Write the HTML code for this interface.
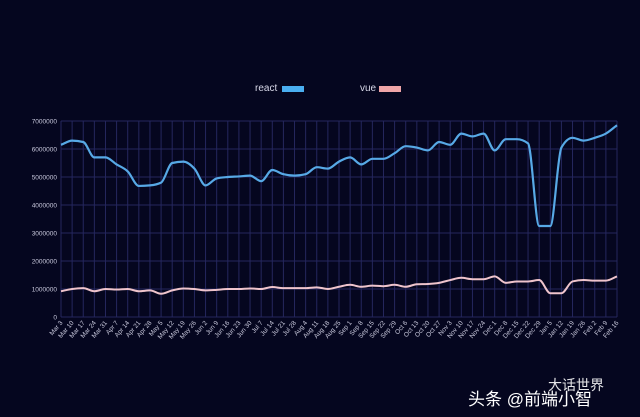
<!DOCTYPE html>
<html><head><meta charset="utf-8"><style>
html,body{margin:0;padding:0;background:#05061f;width:640px;height:417px;overflow:hidden}
svg{display:block;font-family:"Liberation Sans",sans-serif}
</style></head><body>
<svg id="s" width="640" height="417" viewBox="0 0 640 417">
<rect width="640" height="417" fill="#05061f"/>
<g id="grid"></g>
<g id="lbl" fill="#c8c8dc" font-size="6.5"></g>
<text x="255" y="91" fill="#d8d8e8" font-size="10">react</text>
<rect x="282" y="86" width="22" height="6" fill="#4aaef0"/>
<text x="360" y="91" fill="#d8d8e8" font-size="10">vue</text>
<rect x="379" y="86" width="22" height="6" fill="#efa5a8"/>
<path id="r" fill="none" stroke="#57a9e6" stroke-width="2.2"/>
<path id="v" fill="none" stroke="#efc4cc" stroke-width="2"/>
<text x="468" y="405" fill="#ffffff" font-size="17" font-family="'Liberation Sans','Noto Sans CJK SC',sans-serif">头条 @前端小智</text>
<text x="548" y="390" fill="#ffffff" font-size="14" font-family="'Liberation Sans','Noto Sans CJK SC',sans-serif" opacity="0.9">大话世界</text>
</svg>
<script>
var X0=61,X1=617,Y0=317,Y7=121;
function px(i){return X0+i*(X1-X0)/50}
function py(v){return Y0-(Y0-Y7)*v/7}
var g=document.getElementById('grid'),L=document.getElementById('lbl'),h='',t='';
var labels="Mar 3,Mar 10,Mar 17,Mar 24,Mar 31,Apr 7,Apr 14,Apr 21,Apr 28,May 5,May 12,May 19,May 26,Jun 2,Jun 9,Jun 16,Jun 23,Jun 30,Jul 7,Jul 14,Jul 21,Jul 28,Aug 4,Aug 11,Aug 18,Aug 25,Sep 1,Sep 8,Sep 15,Sep 22,Sep 29,Oct 6,Oct 13,Oct 20,Oct 27,Nov 3,Nov 10,Nov 17,Nov 24,Dec 1,Dec 8,Dec 15,Dec 22,Dec 29,Jan 5,Jan 12,Jan 19,Jan 26,Feb 2,Feb 9,Feb 16".split(',');
for(var i=0;i<51;i++){var x=px(i);h+='<line x1="'+x+'" y1="'+Y7+'" x2="'+x+'" y2="'+Y0+'" stroke="#25275e" stroke-width="1"/>';
t+='<text transform="translate('+(x+2)+','+(Y0+6)+') rotate(-50)" text-anchor="end">'+labels[i]+'</text>';}
for(var k=0;k<=7;k++){var y=py(k);h+='<line x1="'+X0+'" y1="'+y+'" x2="'+X1+'" y2="'+y+'" stroke="#25275e" stroke-width="1"/>';
t+='<text x="'+(X0-4)+'" y="'+(y+2.5)+'" text-anchor="end">'+(k?k*1000000:0)+'</text>';}
g.innerHTML=h;L.innerHTML=t;
var R=[6.15,6.3,6.25,5.7,5.7,5.45,5.2,4.68,4.7,4.8,5.5,5.55,5.3,4.7,4.95,5.0,5.02,5.05,4.85,5.25,5.1,5.05,5.1,5.35,5.3,5.55,5.7,5.45,5.65,5.65,5.85,6.1,6.05,5.95,6.25,6.15,6.55,6.45,6.55,5.95,6.35,6.35,6.2,3.25,3.25,6.05,6.4,6.3,6.4,6.55,6.85];
var V=[0.92,1.0,1.03,0.92,1.0,0.98,1.0,0.92,0.95,0.83,0.95,1.02,1.0,0.95,0.97,1.0,1.0,1.02,1.0,1.07,1.03,1.03,1.03,1.06,1.0,1.08,1.15,1.08,1.12,1.1,1.15,1.08,1.17,1.18,1.22,1.32,1.4,1.35,1.35,1.45,1.22,1.27,1.27,1.32,0.85,0.85,1.27,1.32,1.3,1.3,1.45];
function path(a){var p=a.map(function(v,i){return[px(i),py(v)]}),n=p.length,dx=p[1][0]-p[0][0],m=[];
for(var i=0;i<n;i++){var l=i>0?p[i][1]-p[i-1][1]:null,r=i<n-1?p[i+1][1]-p[i][1]:null;
if(l===null)m[i]=r;else if(r===null)m[i]=l;else if(l*r<=0)m[i]=0;else{m[i]=(l+r)/2;var mn=Math.min(Math.abs(l),Math.abs(r))*2;if(Math.abs(m[i])>mn)m[i]=Math.sign(m[i])*mn;}}
var d='M'+p[0][0]+','+p[0][1];
for(var i=0;i<n-1;i++){d+=' C'+(p[i][0]+dx/3)+','+(p[i][1]+m[i]/3)+' '+(p[i+1][0]-dx/3)+','+(p[i+1][1]-m[i+1]/3)+' '+p[i+1][0]+','+p[i+1][1];}
return d;}
document.getElementById('r').setAttribute('d',path(R));
document.getElementById('v').setAttribute('d',path(V));
</script>
</body></html>
